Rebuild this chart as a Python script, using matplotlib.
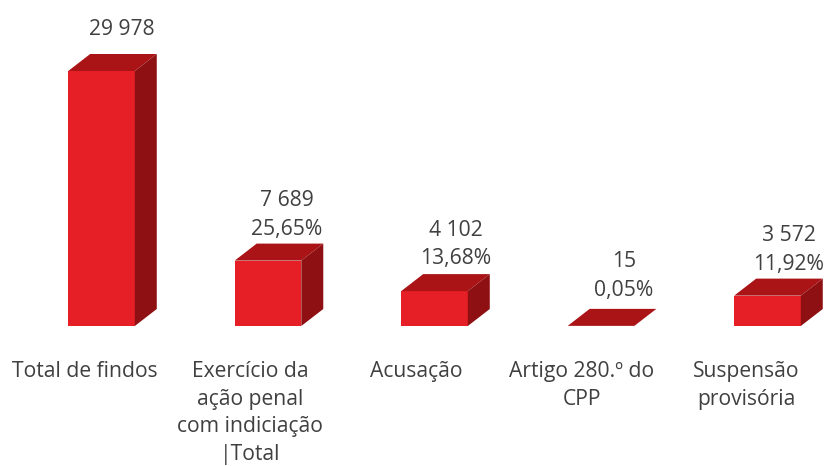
import matplotlib
matplotlib.use('Agg')
import matplotlib.pyplot as plt
from matplotlib.patches import Polygon

plt.rcParams['font.family'] = ['Open Sans', 'DejaVu Sans']

categories = ['Total de findos', 'Exercício da\nação penal\ncom indiciação\n|Total',
              'Acusação', 'Artigo 280.º do\nCPP', 'Suspensão\nprovisória']
values = [29978, 7689, 4102, 15, 3572]
value_labels = ['29 978', '7 689\n25,65%', '4 102\n13,68%', '15\n0,05%', '3 572\n11,92%']

FRONT = '#e61e25'
TOP = '#ab1417'
SIDE = '#8e1013'
TEXT = '#404040'

# label nudges in px (x from bar centre, y above the back top edge)
label_dx = [20.5, 18.5, 21, 23, 21]
label_dy = [14, 4, 5, 8, 4]
cat_dx = [-17, -18, -18, -19, -21]

fig = plt.figure(figsize=(8.24, 4.66), dpi=100)
ax = fig.add_axes([0, 0, 1, 1])
# one category step is 166.5 px, 255 px is the tallest bar
ax.set_xlim(-101.5 / 166.5, (824 - 101.5) / 166.5)
scale = 29978 / 255
ax.set_ylim(-(466 - 326) * scale, 326 * scale)
ax.axis('off')

width = 0.4
depth_x = 0.132
depth_y = 17 * scale

for i, v in enumerate(values):
    l, r = i - width / 2, i + width / 2
    ax.add_patch(Polygon([(l, 0), (r, 0), (r, v), (l, v)], fc=FRONT, ec='none'))
    ax.add_patch(Polygon([(l, v), (r, v), (r + depth_x, v + depth_y), (l + depth_x, v + depth_y)],
                         fc=TOP, ec='none'))
    ax.add_patch(Polygon([(r, 0), (r + depth_x, depth_y), (r + depth_x, v + depth_y), (r, v)],
                         fc=SIDE, ec='none'))
    ax.annotate(value_labels[i], (i, v + depth_y), xytext=(label_dx[i] * 0.72, label_dy[i] * 0.72),
                textcoords='offset points', ha='center', va='bottom', fontsize=15.2,
                color=TEXT, linespacing=1.47)
    ax.annotate(categories[i], (i, 0), xytext=(cat_dx[i] * 0.72, -35 * 0.72),
                textcoords='offset points', ha='center', va='top', fontsize=15.2,
                color=TEXT, linespacing=1.42)

fig.savefig('out.png', dpi=100)
